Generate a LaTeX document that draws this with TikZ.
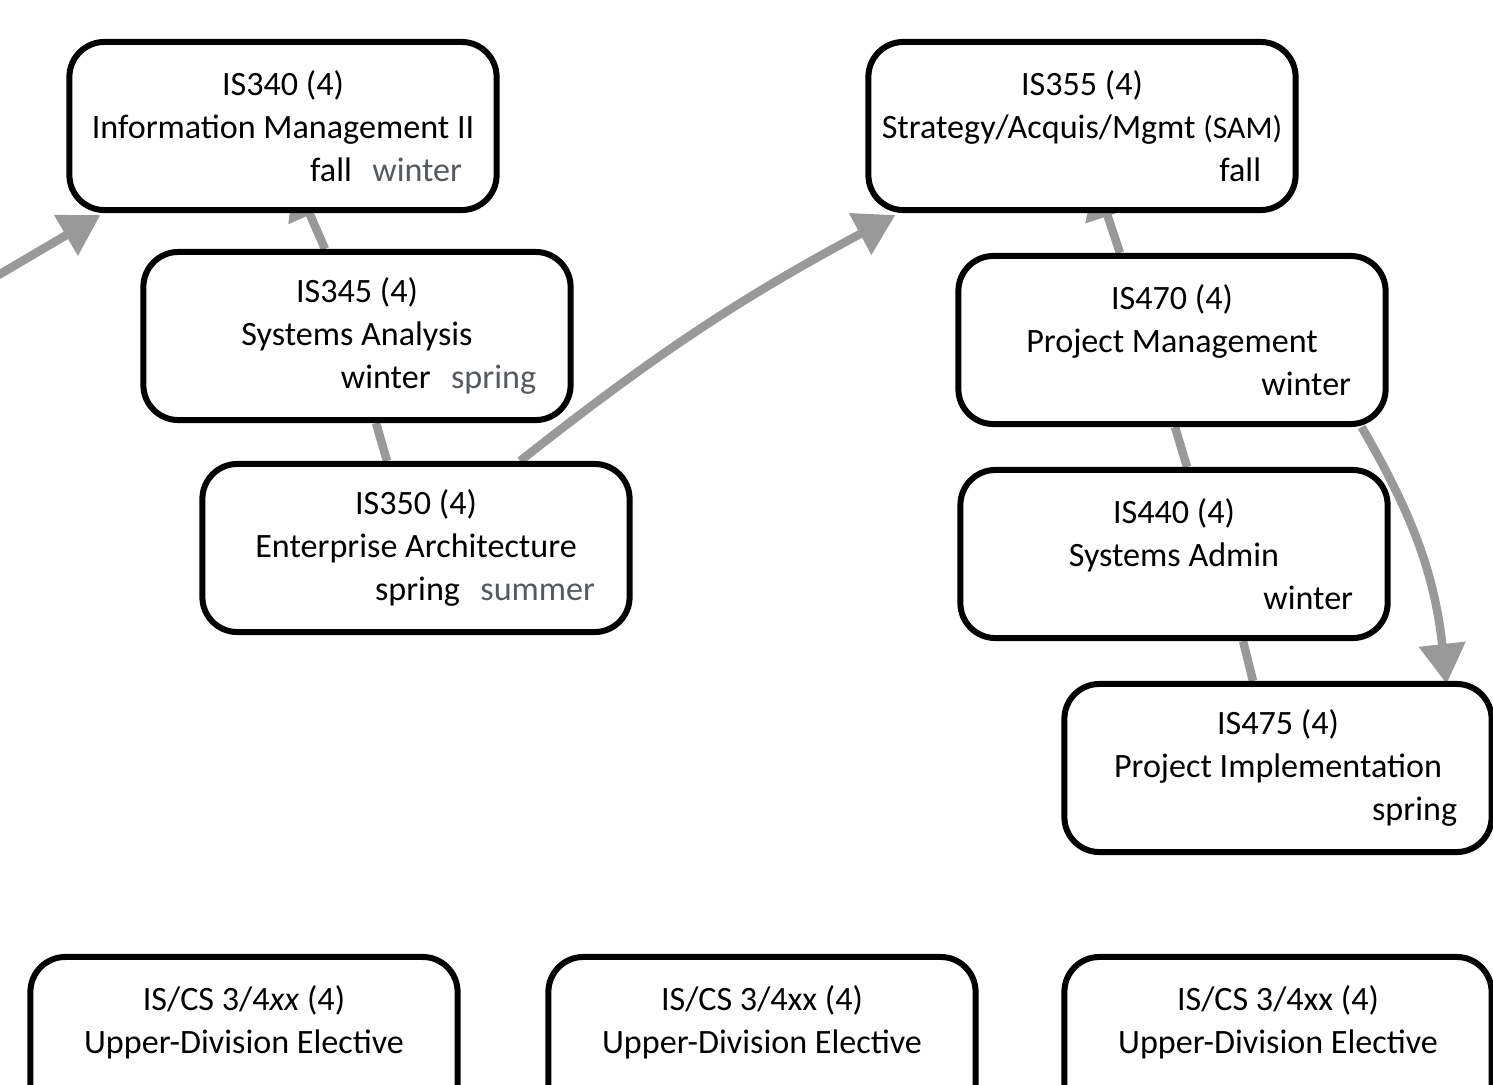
\documentclass[tikz,border=0pt]{standalone}
\usepackage{fontspec}
\setmainfont{Carlito}
\usetikzlibrary{calc,arrows.meta,backgrounds}

\definecolor{linkgray}{RGB}{153,153,153}
\definecolor{termgray}{RGB}{85,90,95}

\tikzset{
  course/.style={draw, line width=0.06cm, rounded corners=0.35cm, fill=white,
    minimum width=4.27cm, minimum height=1.68cm, inner sep=0pt, align=center,
    font=\fontsize{9.7}{12.3}\selectfont},
  prereq/.style={draw=linkgray, line width=0.085cm,
    -{Triangle[width=0.45cm,length=0.4cm]}},
  coreq/.style={draw=linkgray, line width=0.085cm}
}
\newcommand{\termline}[2]{\makebox[3.58cm][r]{#1\hspace{0.6em}\textcolor{termgray}{#2}}}

\begin{document}
\begin{tikzpicture}[x=0.01cm,y=-0.01cm]
          \clip (0,0) rectangle (1493,1084);

          % left column
          \node[course] (is340) at (283,126){IS340 (4)\\Information Management II\\\termline{fall}{winter}};
          \node[course] (is345) at (357,336){IS345 (4)\\Systems Analysis\\\termline{winter}{spring}};
          \node[course] (is350) at (416,548){IS350 (4)\\Enterprise Architecture\\\termline{spring}{summer}};

          % right column
          \node[course] (is355) at (1082,126){IS355 (4)\\Strategy/Acquis/Mgmt {\small(SAM)}\\\makebox[3.58cm][r]{fall}};
          \node[course] (is470) at (1172,340){IS470 (4)\\Project Management\\\makebox[3.58cm][r]{winter}};
          \node[course] (is440) at (1174,554){IS440 (4)\\Systems Admin\\\makebox[3.58cm][r]{winter}};
          \node[course] (is475) at (1278,768){IS475 (4)\\Project Implementation\\\makebox[3.58cm][r]{spring}};

          % electives
          \node[course] (elec1) at (244,1041){IS/CS 3/4\textit{xx} (4)\\Upper-Division Elective\\~};
          \node[course] (elec2) at (762,1041){IS/CS 3/4xx (4)\\Upper-Division Elective\\~};
          \node[course] (elec3) at (1278,1041){IS/CS 3/4xx (4)\\Upper-Division Elective\\~};

          \coordinate (prev) at (-10,280);

          \begin{scope}[on background layer]
          \fill[white] (0,0) rectangle (1493,1084);

          % prerequisite arrows
          \draw[prereq] (prev) -- ([xshift=0.34cm,yshift=-0.02cm]is340.south west);
          \draw[prereq] ([xshift=-0.32cm]is345.north) -- ([xshift=0.11cm,yshift=0.35cm]is340.south);
          \draw[prereq] ([xshift=1.04cm]is350.north) to[bend left=5] ([xshift=0.3cm,yshift=-0.02cm]is355.south west);
          \draw[prereq] ([xshift=-0.52cm]is470.north) -- ([xshift=0.13cm,yshift=0.35cm]is355.south);
          \draw[prereq] ([xshift=-0.27cm]is470.south east) to[bend left=12] ([xshift=-0.48cm,yshift=-0.03cm]is475.north east);

          % plain links
          \draw[coreq] ([xshift=-0.29cm]is350.north) -- ([xshift=0.19cm]is345.south);
          \draw[coreq] ([xshift=0.13cm]is440.north) -- ([xshift=0.03cm]is470.south);
          \draw[coreq] ([xshift=-0.25cm]is475.north) -- ([xshift=0.69cm]is440.south);
          \end{scope}
\end{tikzpicture}
\end{document}
